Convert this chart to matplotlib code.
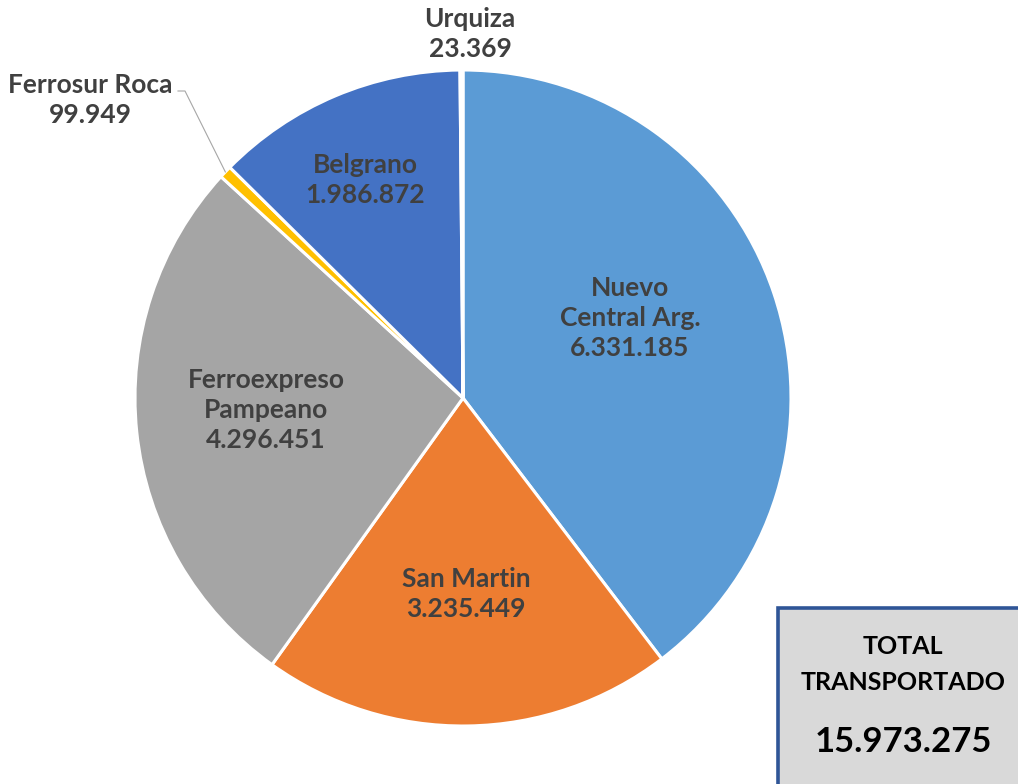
import numpy as np
import matplotlib.pyplot as plt
from matplotlib.patches import Rectangle

# Datos
lineas = ['Nuevo\nCentral Arg.', 'San Martin', 'Ferroexpreso\nPampeano',
          'Ferrosur Roca', 'Belgrano', 'Urquiza']
toneladas = [6331185, 3235449, 4296451, 99949, 1986872, 23369]
colores = ['#5B9BD5', '#ED7D31', '#A5A5A5', '#FFC000', '#4472C4', '#70AD47']
total = sum(toneladas)


def fmt(v):
    return f'{v:,}'.replace(',', '.')


plt.rcParams['font.family'] = ['Lato', 'DejaVu Sans']

W, H = 1018, 784
fig = plt.figure(figsize=(W / 100, H / 100), dpi=100)
ax = fig.add_axes([0, 0, 1, 1])

cx, cy, R = 463, H - 398, 328
wedges, _ = ax.pie(toneladas, colors=colores, startangle=90, counterclock=False,
                   center=(cx, cy), radius=R, frame=True,
                   wedgeprops=dict(edgecolor='white', linewidth=2.2))
ax.set_xlim(0, W)
ax.set_ylim(0, H)
ax.axis('off')

# Posiciones de las etiquetas (pixeles)
pos_etiquetas = [(630, 318), (466, 594), (266, 410), (90, 100), (365, 180), (470, 34)]
for nombre, v, (px, py) in zip(lineas, toneladas, pos_etiquetas):
    ax.text(px, H - py, f'{nombre}\n{fmt(v)}', ha='center', va='center',
            fontsize=19, fontweight='bold', color='#404040', linespacing=1.28)

# Linea guia Ferrosur Roca
w = wedges[3]
ang = np.deg2rad((w.theta1 + w.theta2) / 2)
ex, ey = cx + R * np.cos(ang), cy + R * np.sin(ang)
ax.plot([178, 185, ex], [H - 91, H - 91, ey], color='#A6A6A6', lw=0.8)

# Recuadro total
ax.add_patch(Rectangle((778, -20), 270, H - 608 + 20, facecolor='#D9D9D9',
                       edgecolor='#2F5597', linewidth=2.6, clip_on=False))
ax.text(903, H - 647, 'TOTAL', ha='center', va='center', fontsize=18,
        fontweight='bold', color='black')
ax.text(903, H - 682, 'TRANSPORTADO', ha='center', va='center', fontsize=18,
        fontweight='bold', color='black')
ax.text(903, H - 742, fmt(total), ha='center', va='center', fontsize=25,
        fontweight='bold', color='black')

fig.savefig('out.png', dpi=100)
